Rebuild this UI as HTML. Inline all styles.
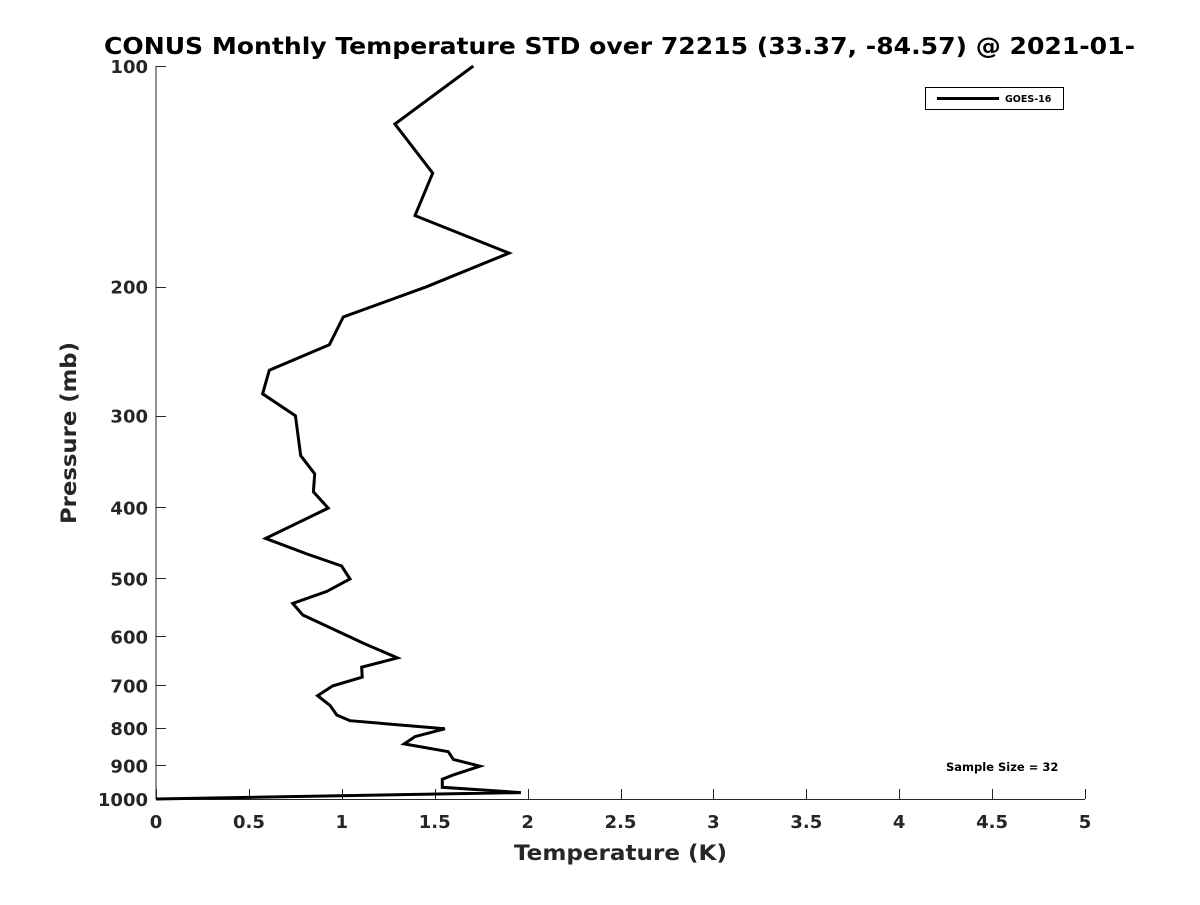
<!DOCTYPE html>
<html><head><meta charset="utf-8"><style>
body{margin:0;background:#fff;}
svg text{font-family:"DejaVu Sans","Liberation Sans",sans-serif;font-weight:bold;fill:#262626;}
</style></head><body>
<svg id="chart" width="1200" height="900" xmlns="http://www.w3.org/2000/svg">
<rect width="1200" height="900" fill="#fff"/>
<text x="104" y="54" font-size="23" textLength="1031" lengthAdjust="spacingAndGlyphs" style="fill:#000">CONUS Monthly Temperature STD over 72215 (33.37, -84.57) @ 2021-01-</text>
<g id="axes"></g>
<polyline id="series" fill="none" stroke="#000" stroke-width="3" stroke-linejoin="miter"/>
<text x="514" y="860" font-size="21" textLength="213" lengthAdjust="spacingAndGlyphs">Temperature (K)</text>
<text transform="translate(76,524) rotate(-90)" font-size="21" textLength="182" lengthAdjust="spacingAndGlyphs">Pressure (mb)</text>
<g>
<rect x="925.5" y="87.5" width="138" height="22" fill="#fff" stroke="#000" stroke-width="1"/>
<line x1="937" y1="98.5" x2="999" y2="98.5" stroke="#000" stroke-width="3"/>
<text x="1005" y="102" font-size="9.5" style="fill:#000">GOES-16</text>
</g>
<text x="946" y="771" font-size="11.5" style="fill:#000">Sample Size = 32</text>
</svg>
<script>
const temps=[1.708,1.286,1.489,1.394,1.900,1.457,1.008,0.933,0.610,0.574,0.750,0.779,0.854,0.847,0.927,0.590,0.811,0.999,1.044,0.919,0.736,0.790,1.116,1.299,1.107,1.110,0.951,0.870,0.936,0.973,1.044,1.555,1.394,1.336,1.573,1.600,1.744,1.600,1.541,1.541,1.964,0];
const pressures=[100,120,140,160,180,200,220,240,260,280,300,340,360,381,401,441,463,481,501,521,541,561,613,642,661,682,701,723,745,768,782,802,822,841,862,883,902,927,940,964,980,1000];
const xTicks=[0,0.5,1,1.5,2,2.5,3,3.5,4,4.5,5];
const xTickLabels=["0","0.5","1","1.5","2","2.5","3","3.5","4","4.5","5"];
const yTicks=[100,200,300,400,500,600,700,800,900,1000];
const yTickLabels=["100","200","300","400","500","600","700","800","900","1000"];
const X0=156,X1=1085,Y0=66,Y1=799;
function xs(t){return X0+(t-0)/(5-0)*(X1-X0);}
function ys(p){return Y0+(Math.log10(p)-2)/(3-2)*(Y1-Y0);}
const NS="http://www.w3.org/2000/svg";
const ax=document.getElementById('axes');
function mk(tag,attrs){const e=document.createElementNS(NS,tag);for(const k in attrs)e.setAttribute(k,attrs[k]);return e;}
let l=mk('line',{x1:X0,y1:Y0,x2:X0,y2:Y1+0.5,stroke:'#262626','stroke-width':1});


ax.appendChild(l);
l=mk('line',{x1:X0,y1:Y1+0.5,x2:X1,y2:Y1+0.5,stroke:'#262626','stroke-width':1});


ax.appendChild(l);
xTicks.forEach((t,i)=>{
 const x=Math.round(xs(t))+0.5;
 const tk=mk('line',{x1:x,y1:Y1,x2:x,y2:Y1-10,stroke:'#262626','stroke-width':1});
 
 
 ax.appendChild(tk);
 const tx=mk('text',{x:xs(t),y:Y1+29,'text-anchor':'middle','font-size':18});
 tx.textContent=xTickLabels[i];
 
 
 ax.appendChild(tx);
});
yTicks.forEach((p,i)=>{
 const y=Math.round(ys(p))+0.5;
 const tk=mk('line',{x1:X0,y1:y,x2:X0+10,y2:y,stroke:'#262626','stroke-width':1});
 
 
 ax.appendChild(tk);
 const tx=mk('text',{x:X0-8,y:ys(p)+7,'text-anchor':'end','font-size':18});
 tx.textContent=yTickLabels[i];
 
 
 ax.appendChild(tx);
});
document.getElementById('series').setAttribute('points',temps.map((t,i)=>xs(t).toFixed(1)+','+ys(pressures[i]).toFixed(1)).join(' '));
</script>
</body></html>
